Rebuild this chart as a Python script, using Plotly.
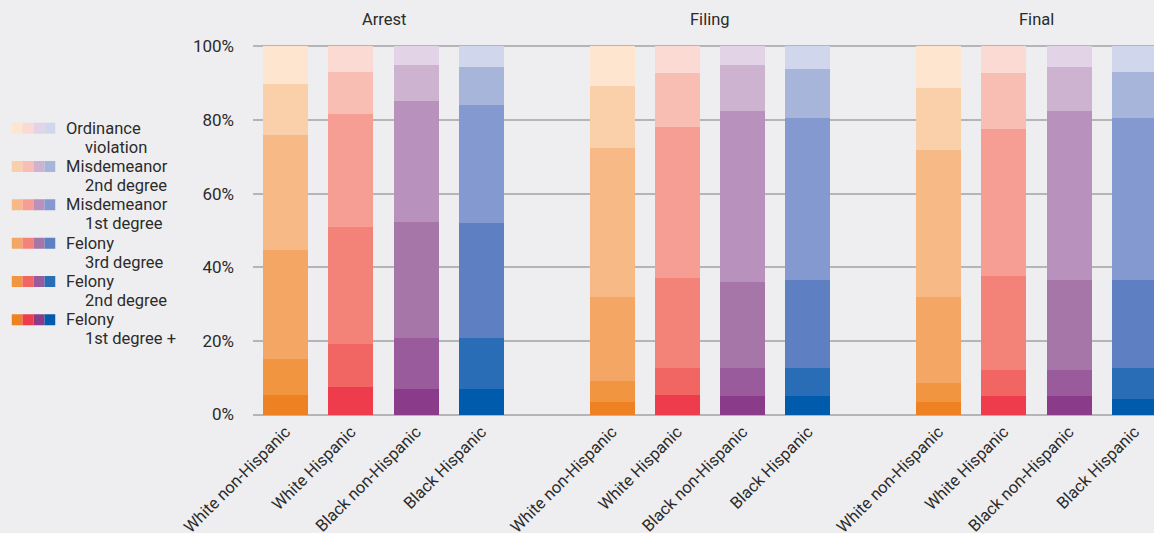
import plotly.graph_objects as go

stages = ["Arrest", "Filing", "Final"]
races = ["White non-Hispanic", "White Hispanic", "Black non-Hispanic", "Black Hispanic"]
levels = ["Felony 1st degree +", "Felony 2nd degree", "Felony 3rd degree",
          "Misdemeanor 1st degree", "Misdemeanor 2nd degree", "Ordinance violation"]
level_lines = [("Felony", "1st degree +"), ("Felony", "2nd degree"), ("Felony", "3rd degree"),
               ("Misdemeanor", "1st degree"), ("Misdemeanor", "2nd degree"), ("Ordinance", "violation")]

# shares in %, order: Arrest x4 races, Filing x4, Final x4
felony_1 = [5.4, 7.6, 7.0, 7.0, 3.5, 5.4, 4.9, 4.9, 3.5, 4.9, 4.9, 4.3]
felony_2 = [9.8, 11.6, 13.9, 13.9, 5.7, 7.3, 7.8, 7.8, 5.2, 7.3, 7.3, 8.4]
felony_3 = [29.5, 31.7, 31.4, 31.1, 22.8, 24.4, 23.3, 23.9, 23.3, 25.5, 24.4, 23.9]
misd_1 = [31.2, 30.7, 32.8, 32.0, 40.4, 40.9, 46.4, 43.9, 39.8, 39.8, 45.8, 43.9]
misd_2 = [13.8, 11.6, 9.8, 10.3, 16.8, 14.7, 12.5, 13.3, 16.8, 15.2, 11.9, 12.7]
ordinance = [10.3, 6.8, 5.1, 5.7, 10.8, 7.3, 5.1, 6.2, 11.4, 7.3, 5.7, 6.8]
series = [felony_1, felony_2, felony_3, misd_1, misd_2, ordinance]

# colour ramps per race, felony 1st -> ordinance
palette = {
    "White non-Hispanic": ["#EE8222", "#F19540", "#F4A665", "#F7BA86", "#FAD0AA", "#FDE5CF"],
    "White Hispanic": ["#EE3C4D", "#F16563", "#F38379", "#F69E93", "#F8BEB4", "#FCDAD4"],
    "Black non-Hispanic": ["#8A3C8A", "#995B9C", "#A676A8", "#B892BC", "#CDB3D0", "#E2D4E6"],
    "Black Hispanic": ["#005BAC", "#2A6DB7", "#5E7FC2", "#8399D0", "#A7B5DB", "#D0D6EB"],
}

FONT = "Roboto, Arial, sans-serif"
TXT = "#2B2B2B"
BG = "#EEEEF0"

xpos = [g * 5 + r for g in range(len(stages)) for r in range(len(races))]
xlab = [races[r] for g in range(len(stages)) for r in range(len(races))]

fig = go.Figure()
for i, vals in enumerate(series):
    cols = [palette[races[r]][i] for g in range(len(stages)) for r in range(len(races))]
    fig.add_trace(go.Bar(x=xpos, y=vals, name=levels[i], marker=dict(color=cols, line_width=0),
                         showlegend=False, hoverinfo="skip"))

# legend swatches
lx, ly, lc = [], [], []
for i in range(len(levels)):
    for r, race in enumerate(races):
        lx.append(r)
        ly.append(i)
        lc.append(palette[race][i])
fig.add_trace(go.Scatter(x=lx, y=ly, mode="markers", xaxis="x2", yaxis="y2",
                         marker=dict(symbol="square", size=11, color=lc, line_width=0),
                         showlegend=False, hoverinfo="skip"))

W, H = 1154, 533
mt, mb = 44.5, 116.5
ph = H - mt - mb

def py(p):
    return (H - mb - p) / ph

for i, (a, b) in enumerate(level_lines):
    fig.add_annotation(x=64 / W, xref="paper", y=i, yref="y2", text=a, showarrow=False,
                       xanchor="left", yanchor="middle", font=dict(family=FONT, size=16.5, color=TXT))
    fig.add_annotation(x=83 / W, xref="paper", y=i, yref="y2", yshift=-19, text=b, showarrow=False,
                       xanchor="left", yanchor="middle", font=dict(family=FONT, size=16.5, color=TXT))

for g, s in enumerate(stages):
    fig.add_annotation(x=g * 5 + 1.5, xref="x", y=py(19), yref="paper", text=s, showarrow=False,
                       xanchor="center", yanchor="middle", font=dict(family=FONT, size=16.5, color=TXT))

fig.update_layout(
    template="none",
    width=W, height=H,
    margin=dict(l=0, r=0, t=mt, b=mb, autoexpand=False),
    paper_bgcolor=BG, plot_bgcolor=BG,
    barmode="stack", bargap=0.31,
    font=dict(family=FONT, size=15, color=TXT),
    xaxis=dict(domain=[253 / W, 1], range=[-0.5, 13.3], tickvals=xpos, ticktext=xlab,
               tickangle=-45, showgrid=False, zeroline=False, showline=False, automargin=False,
               ticks="", ticklabelstandoff=2, tickfont=dict(size=16.5, color=TXT), fixedrange=True),
    yaxis=dict(range=[-0.4, 100.4], tickvals=[0, 20, 40, 60, 80, 100],
               ticktext=["0%", "20%", "40%", "60%", "80%", "100%"],
               showgrid=True, gridcolor="#B5B5B8", gridwidth=2, zeroline=False,
               showline=False, ticks="", ticklabelstandoff=18, automargin=False,
               tickfont=dict(size=17, color=TXT), fixedrange=True),
    xaxis2=dict(domain=[11.5 / W, 55.5 / W], range=[-0.5, 3.5], visible=False, fixedrange=True,
                anchor="y2"),
    yaxis2=dict(domain=[py(339.2), py(108.8)], range=[-0.5, 5.5], visible=False, fixedrange=True,
                anchor="x2"),
)

fig.write_html("out.html", config={"displayModeBar": False},
               post_script="document.body.style.margin='0';")
